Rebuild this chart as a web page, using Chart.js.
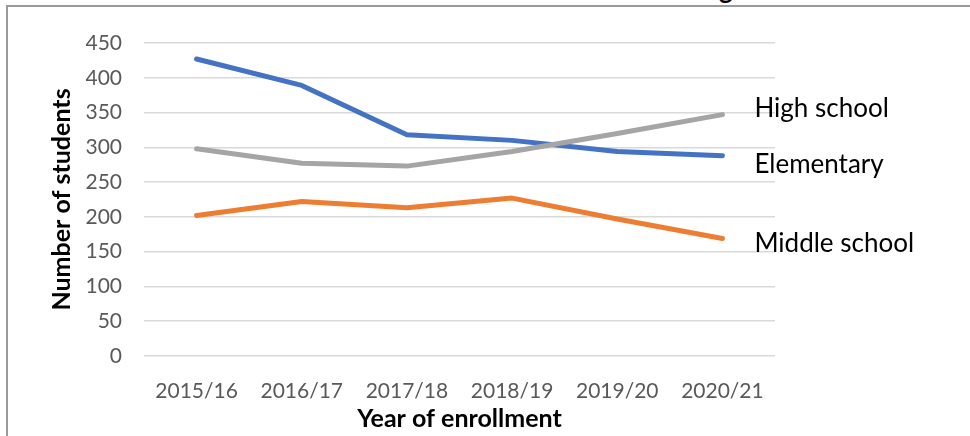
<!DOCTYPE html>
<html>
<head>
<meta charset="utf-8">
<script src="https://cdn.jsdelivr.net/npm/chart.js@4"></script>
<style>
  html, body { margin: 0; padding: 0; background: #fff; overflow: hidden; }
  #wrap { position: relative; width: 970px; height: 436px; }
  #frame { position: absolute; left: 6px; top: 5px; width: 1000px; height: 500px; border: 2px solid #9a9a9a; box-sizing: border-box; }
  #cut-title { position: absolute; left: 719px; top: -24px; font: bold 26px Lato, sans-serif; line-height: 1; color: #000; }
  canvas { position: absolute; left: 0; top: 0; }
</style>
</head>
<body>
<div id="wrap">
  <div id="frame"></div>
  <div id="cut-title">g</div>
  <canvas id="chart" width="970" height="436"></canvas>
</div>
<script>
// enrollment by school level
const YEARS       = ['2015/16', '2016/17', '2017/18', '2018/19', '2019/20', '2020/21'];
const ELEMENTARY  = [427, 389, 318, 310, 294, 288];
const MIDDLE      = [202, 222, 213, 227, 197, 169];
const HIGH        = [298, 277, 273, 294, 320, 347];
const Y_MAX  = 450;
const Y_STEP = 50;

const FONT = 'Lato, "Open Sans", sans-serif';

// series name drawn to the right of the last point (Excel style data label)
const endLabels = {
  id: 'endLabels',
  afterDatasetsDraw(chart) {
    const ctx = chart.ctx;
    ctx.save();
    ctx.font = '26px ' + FONT;
    ctx.fillStyle = '#000';
    ctx.textBaseline = 'middle';
    ctx.textAlign = 'left';
    chart.data.datasets.forEach((ds, i) => {
      const pts = chart.getDatasetMeta(i).data;
      const p = pts[pts.length - 1];
      ctx.fillText(ds.label, p.x + 32, p.y + ds.labelNudge);
    });
    ctx.restore();
  }
};

new Chart(document.getElementById('chart'), {
  type: 'line',
  data: {
    labels: YEARS,
    datasets: [
      { label: 'Elementary',    data: ELEMENTARY, borderColor: '#4472c4', labelNudge: 9,  order: 2 },
      { label: 'Middle school', data: MIDDLE,     borderColor: '#ed7d31', labelNudge: 5,  order: 1 },
      { label: 'High school',   data: HIGH,       borderColor: '#a5a5a5', labelNudge: -6, order: 0 },
    ].map(d => ({ ...d, borderWidth: 5, pointRadius: 0, tension: 0, borderCapStyle: 'round', borderJoinStyle: 'round' })),
  },
  options: {
    responsive: false,
    animation: false,
    layout: { padding: { top: 43, right: 195, bottom: 0, left: 0 } },
    plugins: { legend: { display: false }, tooltip: { enabled: false } },
    scales: {
      x: {
        offset: true,
        grid: { display: false },
        border: { display: false },
        ticks: { color: '#595959', font: { family: FONT, size: 21 }, padding: 15, maxRotation: 0 },
        title: { display: true, text: 'Year of enrollment', color: '#000', font: { family: FONT, size: 25, weight: 'bold' }, padding: { top: 0, bottom: 2 } },
        afterFit(s) { s.height = 80; },
      },
      y: {
        min: 0, max: Y_MAX,
        grid: { color: '#d9d9d9', lineWidth: 1.5, drawTicks: false },
        border: { display: false },
        ticks: { stepSize: Y_STEP, color: '#595959', font: { family: FONT, size: 21 }, padding: 22 },
        title: { display: true, text: 'Number of students', color: '#000', font: { family: FONT, size: 25, weight: 'bold' }, padding: { top: 47, bottom: 0 } },
        afterFit(s) { s.width = 144; },
      },
    },
  },
  plugins: [endLabels],
});
</script>
</body>
</html>
